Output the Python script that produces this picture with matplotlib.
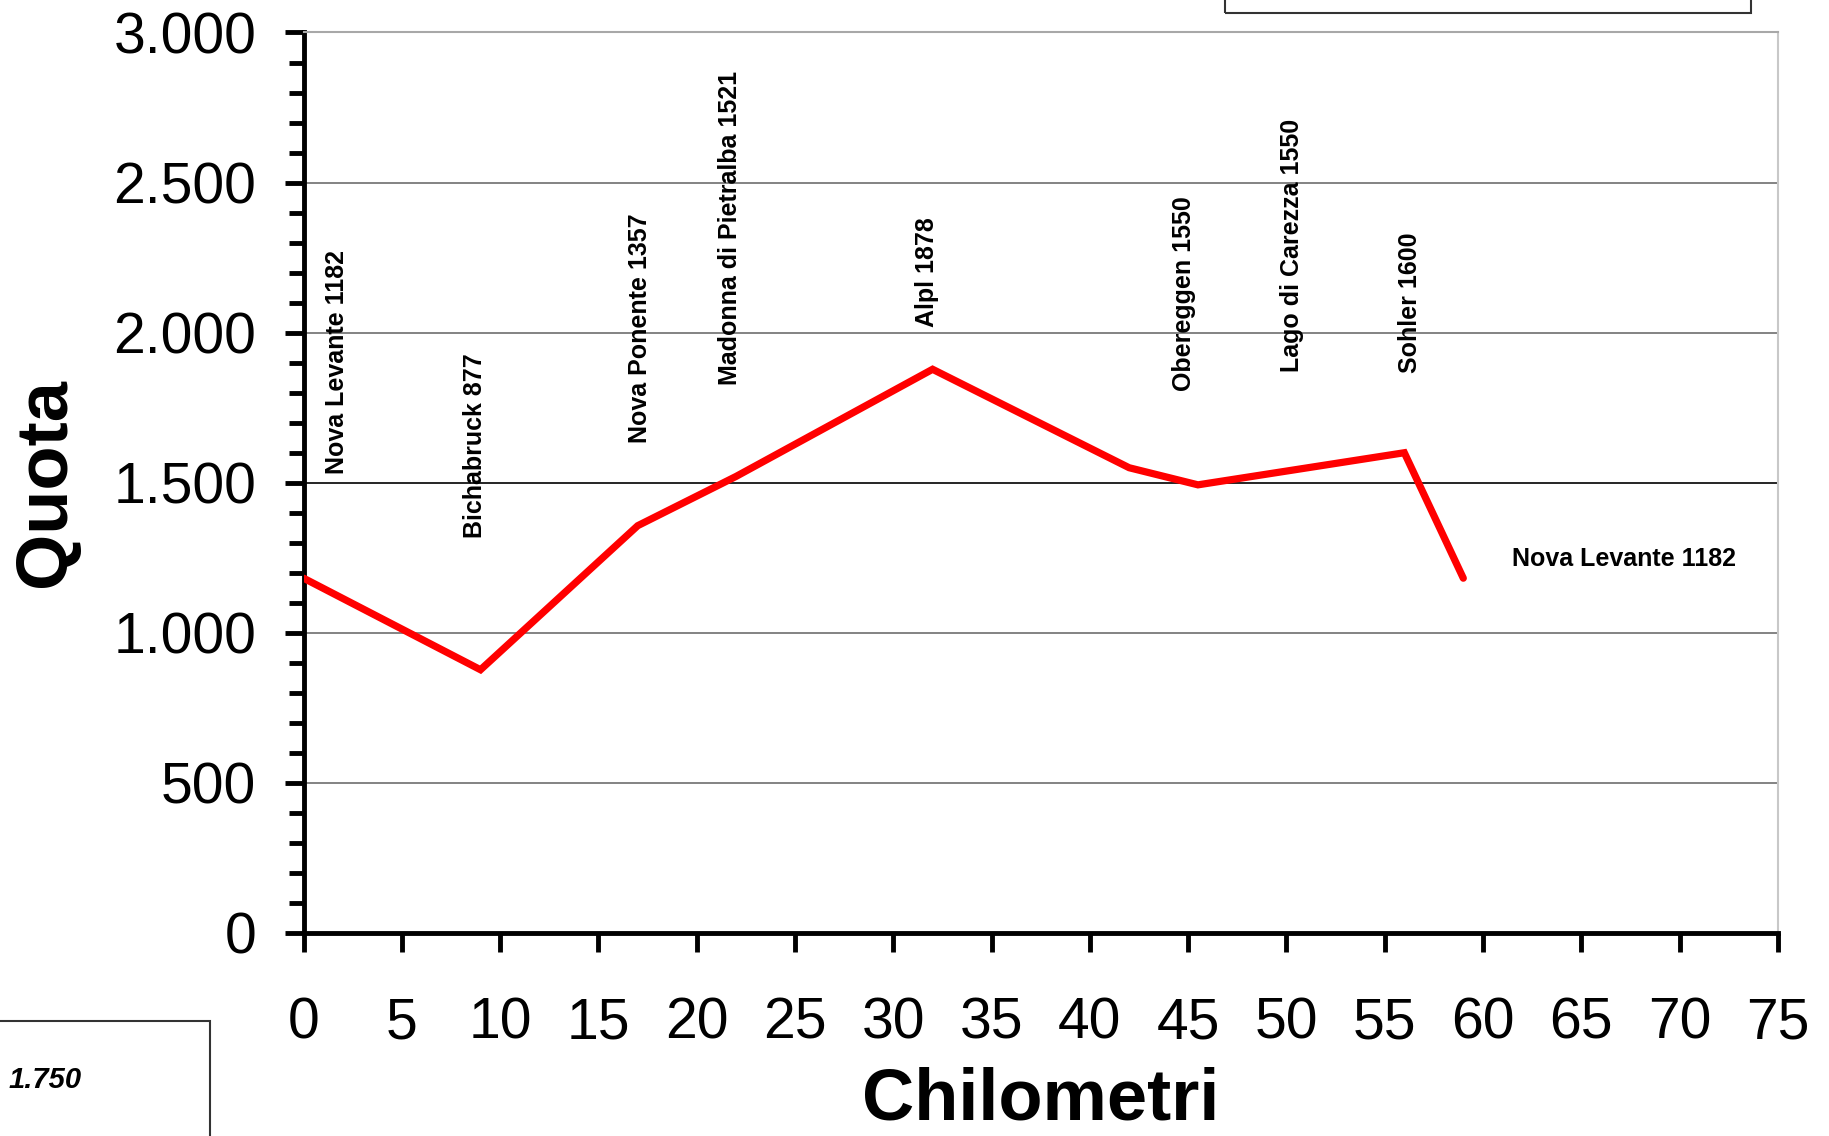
import matplotlib
matplotlib.use("Agg")
import matplotlib.pyplot as plt
from matplotlib.patches import Rectangle
from matplotlib.ticker import FuncFormatter, MultipleLocator

plt.rcParams['font.family'] = ['Liberation Sans', 'DejaVu Sans']

# Data
km = [0, 9, 17, 22, 32, 42, 45.5, 56, 59]
quota = [1182, 877, 1357, 1521, 1878, 1550, 1493, 1600, 1182]

label_texts = ["Nova Levante 1182", "Bichabruck 877", "Nova Ponente 1357",
               "Madonna di Pietralba 1521", "Alpl 1878", "Obereggen 1550",
               "Lago di Carezza 1550", "Sohler 1600"]
label_x = [1.7, 8.7, 17.1, 21.7, 31.7, 44.8, 50.3, 56.3]
label_y = [1529, 1315, 1634, 1824, 2018, 1804, 1870, 1866]
end_label = "Nova Levante 1182"
end_label_x = 61.5
end_label_y = 1246

xticks = list(range(0, 80, 5))
yticks = list(range(0, 3500, 500))

fig = plt.figure(figsize=(18.29, 11.36), dpi=100)
ax = fig.add_axes([0.166, 0.1787, 0.806, 0.7927])

for yv in yticks[1:-1]:
    ax.axhline(yv, color='#000000' if yv == 1500 else '#6e6e6e', lw=1.2, zorder=1)

ax.plot(km, quota, color='#ff0000', lw=5.2, solid_joinstyle='miter',
        solid_capstyle='round', zorder=3)

for t, x, y in zip(label_texts, label_x, label_y):
    ax.text(x, y, t, rotation=90, ha='center', va='bottom', fontsize=18,
            fontweight='bold', zorder=4)
ax.text(end_label_x, end_label_y, end_label, ha='left', va='center',
        fontsize=18, fontweight='bold', zorder=4)

ax.set_xlim(0, 75)
ax.set_ylim(0, 3000)
ax.set_xticks(xticks)
ax.set_yticks(yticks)
ax.yaxis.set_minor_locator(MultipleLocator(100))
ax.yaxis.set_major_formatter(FuncFormatter(lambda v, p: f"{int(v):,}".replace(",", ".")))

ax.tick_params(axis='both', which='both', direction='out', width=3.5,
               length=14, labelsize=41, color='black')
ax.tick_params(axis='y', which='minor', length=11)
ax.tick_params(axis='y', pad=20)
ax.tick_params(axis='x', pad=32)

for s in ['left', 'bottom']:
    ax.spines[s].set_linewidth(3.5)
    ax.spines[s].set_color('black')
ax.spines['top'].set_color('#a8a8a8')
ax.spines['top'].set_linewidth(1.5)
ax.spines['right'].set_color('#c8c8c8')
ax.spines['right'].set_linewidth(1.5)

ax.set_xlabel("Chilometri", fontsize=52, fontweight='bold', labelpad=11)
ax.set_ylabel("Quota", fontsize=52, fontweight='bold', labelpad=24)

# leftover text boxes
fig.patches.append(Rectangle((1225 / 1829, 1 - 13 / 1136), (1751 - 1225) / 1829, 0.05,
                             transform=fig.transFigure, fill=False,
                             edgecolor='#333333', lw=1.5))
fig.patches.append(Rectangle((-0.01, -0.05), (210 / 1829) + 0.01, 0.05 + 1 - 1021 / 1136,
                             transform=fig.transFigure, fill=False,
                             edgecolor='#333333', lw=1.5))
fig.text(9 / 1829, 1 - 1080 / 1136, "1.750", fontsize=21, fontweight='bold',
         fontstyle='italic', ha='left', va='center')

fig.savefig("out.png", dpi=100)
